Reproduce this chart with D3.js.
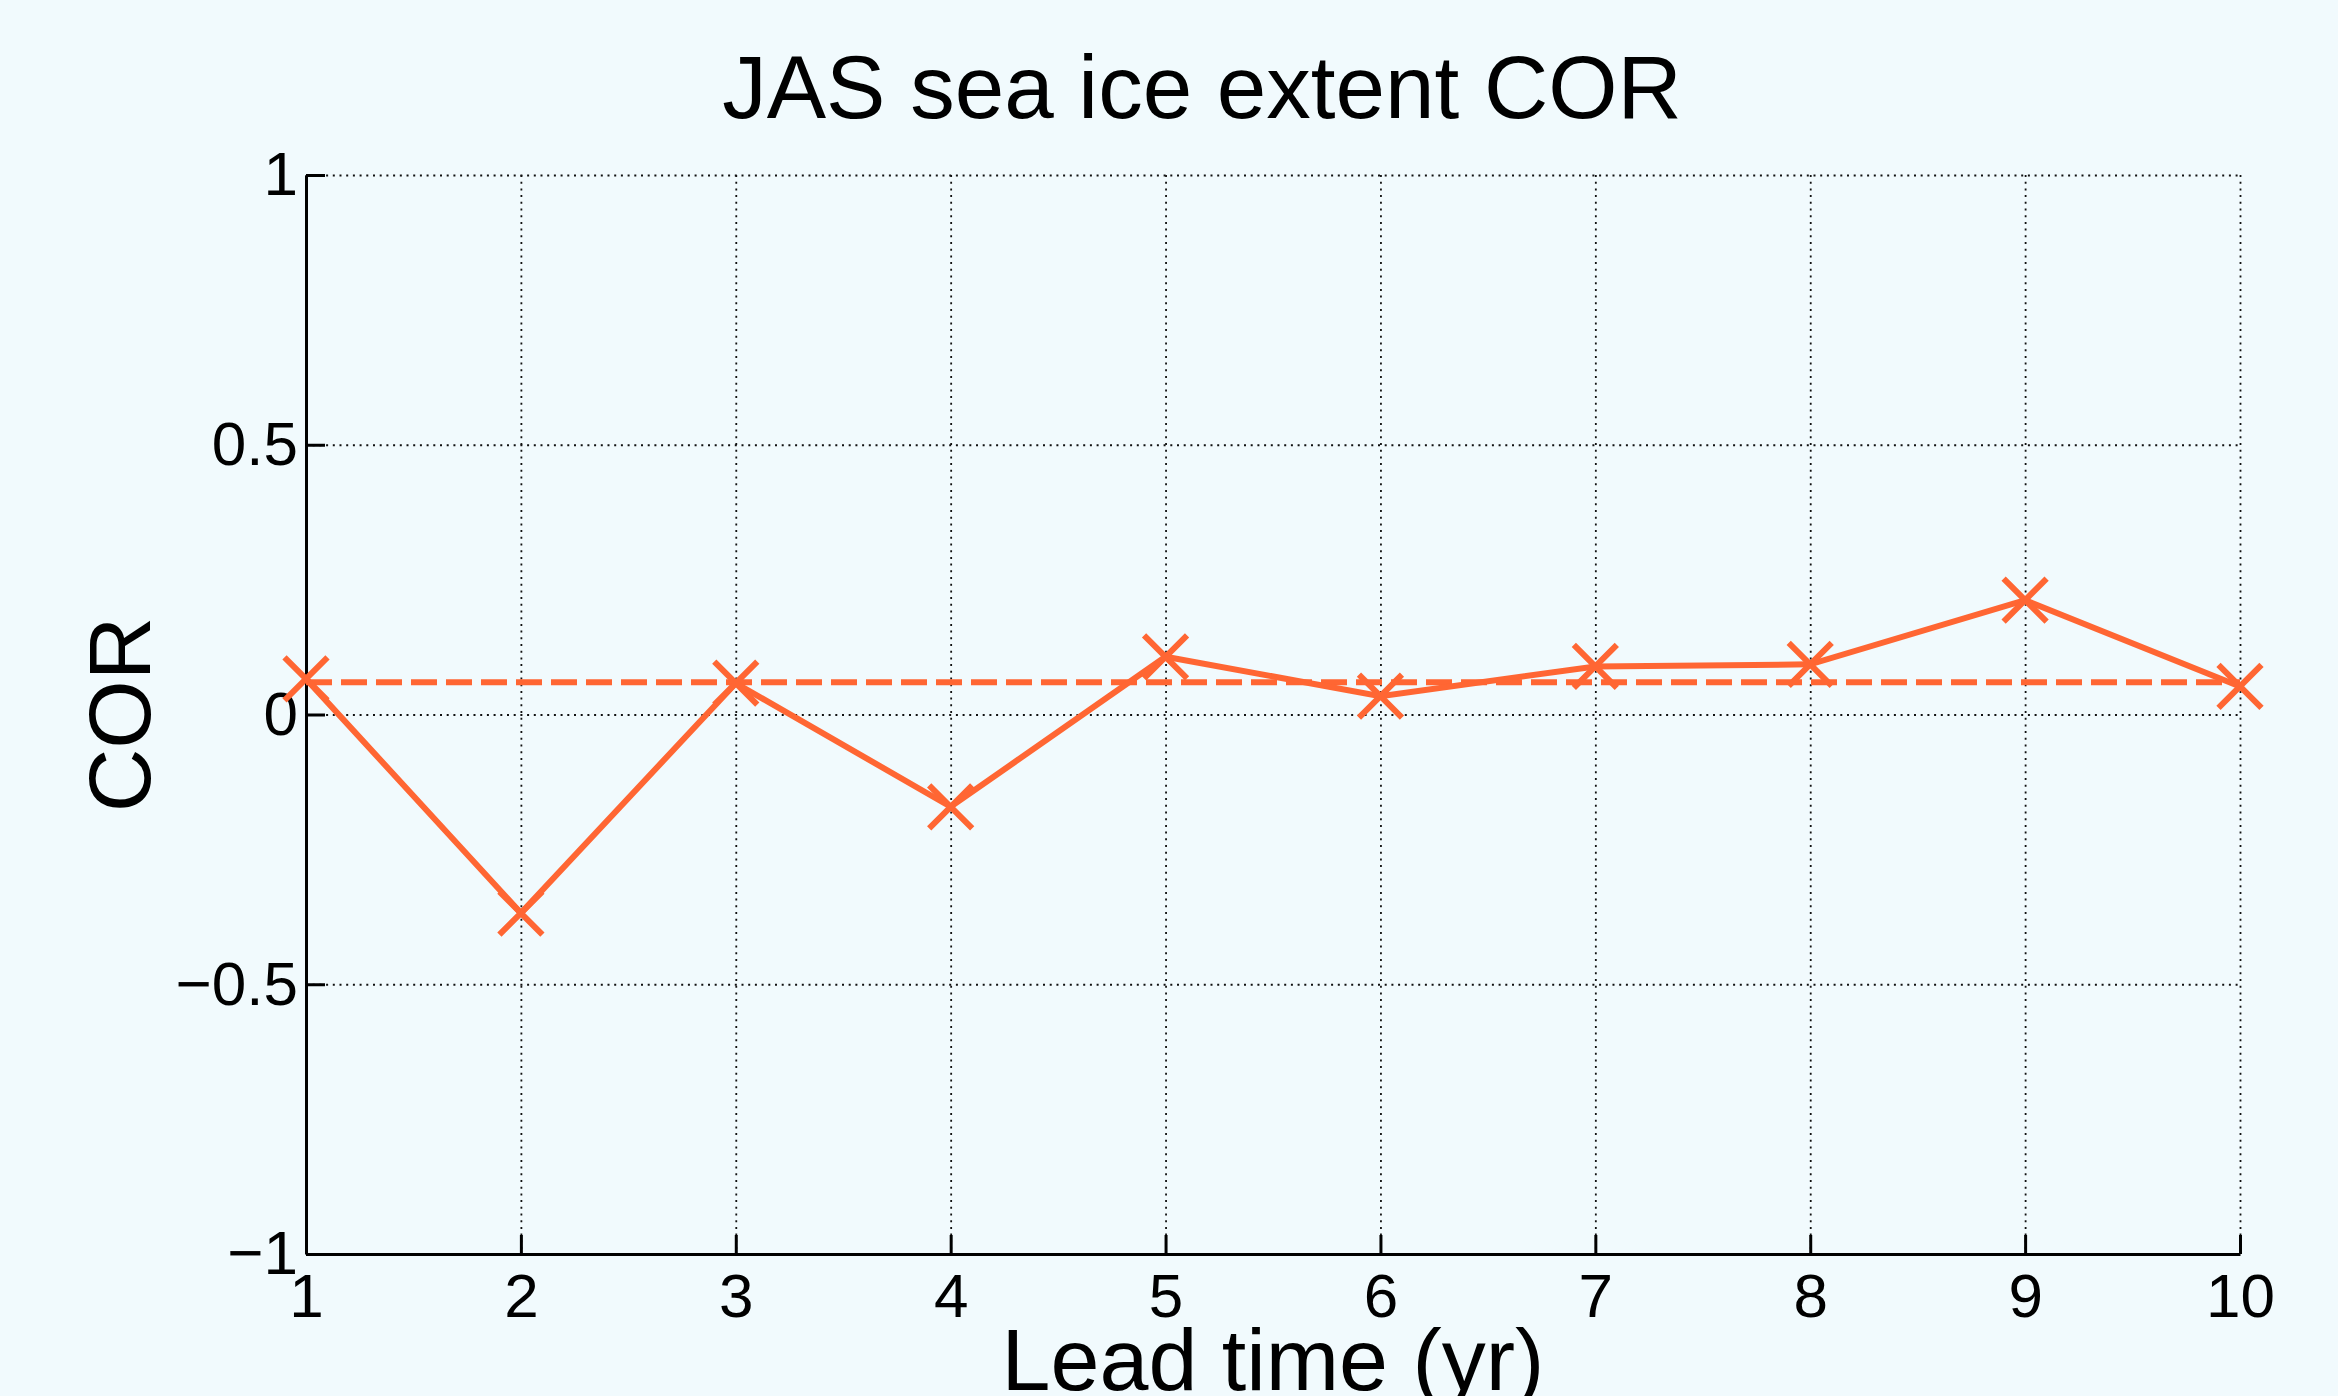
<!DOCTYPE html>
<html>
<head>
<meta charset="utf-8">
<script src="https://cdn.jsdelivr.net/npm/d3@7"></script>
<style>
  html, body { margin: 0; padding: 0; background: #f1fafd; }
  svg { display: block; font-family: "Liberation Sans", Arial, Helvetica, sans-serif; }
</style>
</head>
<body>
<div id="viz"></div>
<script>
// lead time in years and correlation per lead time
const leadTimes = [1, 2, 3, 4, 5, 6, 7, 8, 9, 10];
const corValues = [0.066, -0.368, 0.058, -0.171, 0.107, 0.034, 0.089, 0.093, 0.212, 0.052];
// horizontal reference (dashed)
const refValue = [0.06];
const yTicks = [-1, -0.5, 0, 0.5, 1];

const WIDTH = 2338;
const HEIGHT = 1396;
const MARGIN = { top: 175, right: 98, bottom: 142, left: 306 };
const COLOR = '#ff6633';
const LINE_W = 6;

const width = WIDTH - MARGIN.left - MARGIN.right;
const height = HEIGHT - MARGIN.top - MARGIN.bottom;

const svg = d3.select('#viz')
  .append('svg')
  .attr('width', WIDTH)
  .attr('height', HEIGHT);

svg.append('rect')
  .attr('width', WIDTH)
  .attr('height', HEIGHT)
  .attr('fill', '#f1fafd');

const inner = svg.append('g')
  .attr('transform', `translate(${MARGIN.left}, ${MARGIN.top})`);

const x = d3.scaleLinear().domain([1, 10]).range([0, width]);
const y = d3.scaleLinear().domain([-1, 1]).range([height, 0]);

// dotted grid
const grid = inner.append('g').attr('class', 'grid');
grid.append('g')
  .call(d3.axisBottom(x).tickValues(leadTimes).tickSize(height).tickFormat(''))
  .call(g => g.select('.domain').remove());
grid.append('g')
  .call(d3.axisLeft(y).tickValues(yTicks).tickSize(-width).tickFormat(''))
  .call(g => g.select('.domain').remove());
grid.selectAll('line')
  .attr('stroke', '#111')
  .attr('stroke-width', 1.8)
  .attr('stroke-dasharray', '2,4.7');

// axes, ticks pointing inwards
const xAxis = inner.append('g')
  .attr('transform', `translate(0, ${height})`)
  .call(d3.axisBottom(x).tickValues(leadTimes).tickSizeInner(-19).tickSizeOuter(0).tickPadding(19));
const yAxis = inner.append('g')
  .call(d3.axisLeft(y).tickValues(yTicks).tickSizeInner(-19).tickSizeOuter(0).tickPadding(8)
    .tickFormat(d => d3.format('')(d).replace('-', '\u2212')));

[xAxis, yAxis].forEach(a => {
  a.selectAll('.domain, line').attr('stroke', '#000').attr('stroke-width', 3);
  a.selectAll('text').attr('fill', '#000').attr('font-size', 62).attr('font-family', null);
});

// dashed reference line
inner.append('line')
  .attr('x1', x(1)).attr('x2', x(10))
  .attr('y1', y(refValue[0])).attr('y2', y(refValue[0]))
  .attr('stroke', COLOR)
  .attr('stroke-width', LINE_W)
  .attr('stroke-dasharray', '26,9');

// data line
const points = leadTimes.map((t, i) => ({ t, v: corValues[i] }));
inner.append('path')
  .datum(points)
  .attr('fill', 'none')
  .attr('stroke', COLOR)
  .attr('stroke-width', LINE_W)
  .attr('d', d3.line().x(d => x(d.t)).y(d => y(d.v)));

// x markers
const r = 21.5;
inner.append('g')
  .selectAll('path')
  .data(points)
  .join('path')
  .attr('fill', 'none')
  .attr('stroke', COLOR)
  .attr('stroke-width', LINE_W)
  .attr('d', d => {
    const cx = x(d.t), cy = y(d.v);
    return `M${cx - r},${cy - r}L${cx + r},${cy + r}M${cx - r},${cy + r}L${cx + r},${cy - r}`;
  });

// title and labels
svg.append('text')
  .attr('x', 1202)
  .attr('y', 118)
  .attr('text-anchor', 'middle')
  .attr('font-size', 89)
  .text('JAS sea ice extent COR');

svg.append('text')
  .attr('x', MARGIN.left + width / 2)
  .attr('y', 1390)
  .attr('text-anchor', 'middle')
  .attr('font-size', 88)
  .text('Lead time (yr)');

svg.append('text')
  .attr('transform', `translate(150, ${MARGIN.top + height / 2}) rotate(-90)`)
  .attr('text-anchor', 'middle')
  .attr('font-size', 88)
  .text('COR');
</script>
</body>
</html>
